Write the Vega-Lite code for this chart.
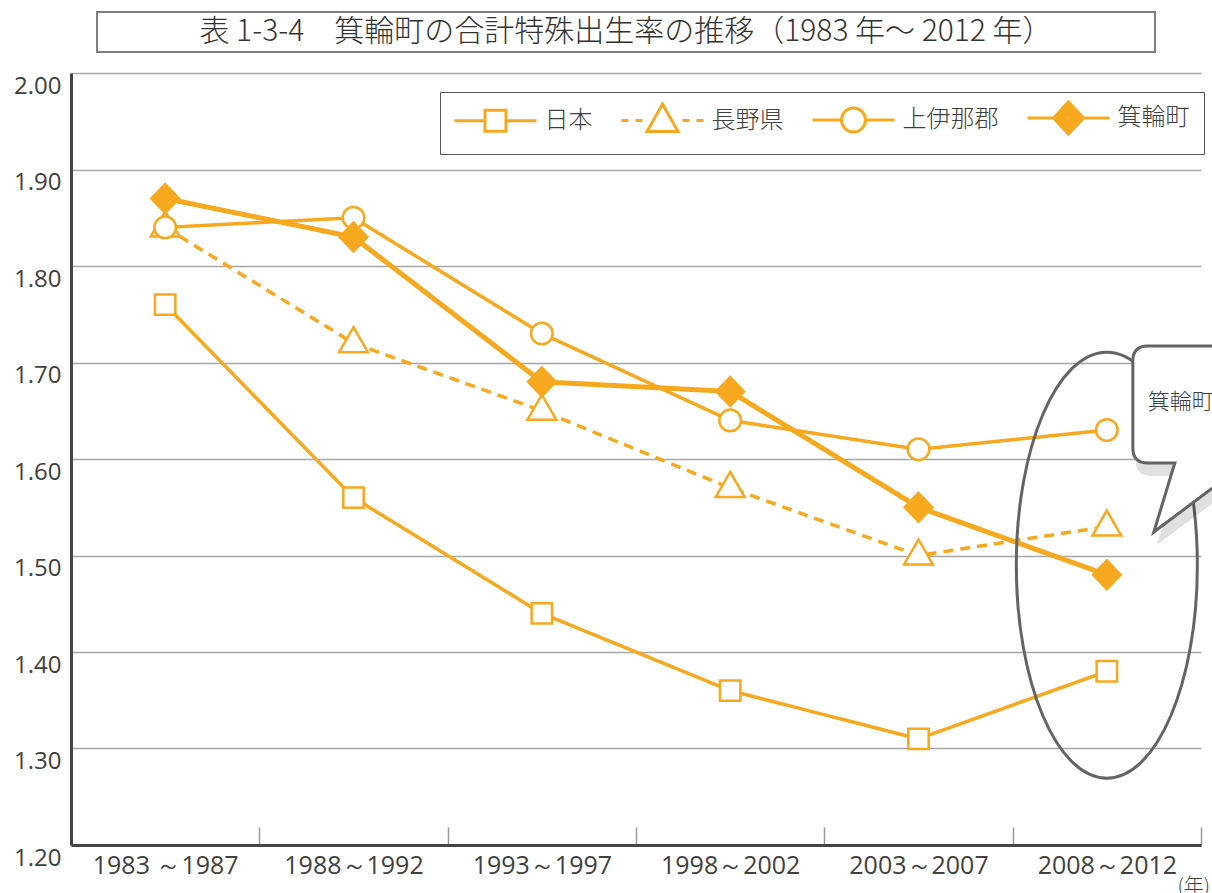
{
  "$schema": "https://vega.github.io/schema/vega-lite/v6.json",
  "autosize": {"type": "none"},
  "padding": {"left": 71, "top": 73, "right": 11, "bottom": 48},
  "width": 1130,
  "height": 772,
  "background": "white",
  "config": {"font": "Open Sans", "view": {"stroke": null}},
  "resolve": {"scale": {"shape": "independent"}},
  "datasets": {
    "tfr": [
      {"period": "1983 ～1987", "series": "日本", "value": 1.76},
      {"period": "1988～1992", "series": "日本", "value": 1.56},
      {"period": "1993～1997", "series": "日本", "value": 1.44},
      {"period": "1998～2002", "series": "日本", "value": 1.36},
      {"period": "2003～2007", "series": "日本", "value": 1.31},
      {"period": "2008～2012", "series": "日本", "value": 1.38},
      {"period": "1983 ～1987", "series": "長野県", "value": 1.84},
      {"period": "1988～1992", "series": "長野県", "value": 1.72},
      {"period": "1993～1997", "series": "長野県", "value": 1.65},
      {"period": "1998～2002", "series": "長野県", "value": 1.57},
      {"period": "2003～2007", "series": "長野県", "value": 1.50},
      {"period": "2008～2012", "series": "長野県", "value": 1.53},
      {"period": "1983 ～1987", "series": "上伊那郡", "value": 1.84},
      {"period": "1988～1992", "series": "上伊那郡", "value": 1.85},
      {"period": "1993～1997", "series": "上伊那郡", "value": 1.73},
      {"period": "1998～2002", "series": "上伊那郡", "value": 1.64},
      {"period": "2003～2007", "series": "上伊那郡", "value": 1.61},
      {"period": "2008～2012", "series": "上伊那郡", "value": 1.63},
      {"period": "1983 ～1987", "series": "箕輪町", "value": 1.87},
      {"period": "1988～1992", "series": "箕輪町", "value": 1.83},
      {"period": "1993～1997", "series": "箕輪町", "value": 1.68},
      {"period": "1998～2002", "series": "箕輪町", "value": 1.67},
      {"period": "2003～2007", "series": "箕輪町", "value": 1.55},
      {"period": "2008～2012", "series": "箕輪町", "value": 1.48}
    ]
  },
  "layer": [
    {
      "data": {"name": "tfr"},
      "mark": {"type": "line", "color": "#F6A81E", "strokeCap": "butt", "strokeJoin": "miter"},
      "encoding": {
        "x": {
          "field": "period",
          "type": "nominal",
          "sort": null,
          "title": "(年)",
          "scale": {"type": "band", "domain": ["1983 ～1987", "1988～1992", "1993～1997", "1998～2002", "2003～2007", "2008～2012"], "paddingInner": 0, "paddingOuter": 0},
          "axis": {
            "titleFont": "Noto Sans CJK JP",
            "titleFontSize": 20,
            "titleFontWeight": 300,
            "titleColor": "#404040",
            "titleAlign": "left",
            "titleAnchor": "start",
            "titleBaseline": "middle",
            "titleX": 1106,
            "titleY": 41,
            "labelAngle": 0,
            "labelFont": "Open Sans",
            "labelFontSize": 25,
            "labelColor": "#404040",
            "labelPadding": 26,
            "labelFlush": false,
            "labelOverlap": false,
            "tickBand": "extent",
            "tickSize": -18,
            "tickColor": "#999999",
            "tickWidth": 1.5,
            "domainColor": "#444444",
            "domainWidth": 3,
            "grid": false
          }
        },
        "y": {
          "field": "value",
          "type": "quantitative",
          "title": null,
          "scale": {"domain": [1.2, 2.0], "nice": false, "zero": false},
          "axis": {
            "values": [1.2, 1.3, 1.4, 1.5, 1.6, 1.7, 1.8, 1.9, 2.0],
            "format": ".2f",
            "grid": true,
            "gridColor": "#a6a6a6",
            "gridWidth": 1.5,
            "ticks": false,
            "tickSize": 0,
            "labelPadding": 10,
            "labelOffset": 13,
            "labelFont": "Open Sans",
            "labelFontSize": 24,
            "labelColor": "#404040",
            "labelBaseline": "middle",
            "domainColor": "#444444",
            "domainWidth": 3
          }
        },
        "detail": {"field": "series", "type": "nominal"},
        "strokeWidth": {"condition": {"test": "datum.series === '箕輪町'", "value": 5}, "value": 3.5},
        "strokeDash": {"condition": {"test": "datum.series === '長野県'", "value": [10, 7]}, "value": [1, 0]}
      }
    },
    {
      "data": {"name": "tfr"},
      "mark": {"type": "point", "filled": true, "stroke": "#F6A81E", "strokeWidth": 2.5, "opacity": 1, "size": 1600},
      "encoding": {
        "x": {"field": "period", "type": "nominal", "sort": null, "title": "(年)"},
        "y": {"field": "value", "type": "quantitative", "title": null},
        "fill": {"condition": {"test": "datum.series === '箕輪町'", "value": "#F6A81E"}, "value": "white"},
        "shape": {
          "field": "series",
          "type": "nominal",
          "legend": null,
          "scale": {
            "domain": ["箕輪町", "上伊那郡", "長野県", "日本"],
            "range": [
              "M0,-0.72L0.69,0L0,0.72L-0.69,0Z",
              "M0.54,0C0.54,0.298 0.298,0.54 0,0.54C-0.298,0.54 -0.54,0.298 -0.54,0C-0.54,-0.298 -0.298,-0.54 0,-0.54C0.298,-0.54 0.54,-0.298 0.54,0Z",
              "M0,-0.8L0.72,0.45L-0.72,0.45Z",
              "M-0.51,-0.51H0.51V0.51H-0.51Z"
            ]
          }
        }
      }
    },
    {
      "data": {"name": "tfr"},
      "mark": {"type": "point", "filled": false, "color": "#F6A81E", "strokeWidth": 3, "opacity": 0, "size": 400},
      "encoding": {
        "x": {"field": "period", "type": "nominal", "sort": null, "title": "(年)"},
        "y": {"field": "value", "type": "quantitative", "title": null},
        "shape": {
          "field": "series",
          "type": "nominal",
          "scale": {
            "domain": ["日本", "長野県", "上伊那郡", "箕輪町"],
            "range": [
              "M-4.1,0H-1.05M1.05,0H4.1M-1.05,-1.05H1.05V1.05H-1.05Z",
              "M-4.1,0H-3.4M-2.7,0H-2.0M2.0,0H2.7M3.4,0H4.1M0,-1.65L1.55,1.1L-1.55,1.1Z",
              "M-4.1,0H-1.2M1.2,0H4.1M1.2,0C1.2,0.663 0.663,1.2 0,1.2C-0.663,1.2 -1.2,0.663 -1.2,0C-1.2,-0.663 -0.663,-1.2 0,-1.2C0.663,-1.2 1.2,-0.663 1.2,0Z",
              "M-4.1,0H-1.5M1.5,0H4.1M0,-1.6L1.5,0L0,1.6L-1.5,0ZM0,-1.33L1.25,0L0,1.33L-1.25,0ZM0,-1.07L1.0,0L0,1.07L-1.0,0ZM0,-0.8L0.75,0L0,0.8L-0.75,0ZM0,-0.53L0.5,0L0,0.53L-0.5,0ZM0,-0.27L0.25,0L0,0.27L-0.25,0Z"
            ]
          },
          "legend": {
            "title": null,
            "orient": "none",
            "legendX": 369,
            "legendY": 19,
            "direction": "horizontal",
            "columns": 4,
            "columnPadding": 22,
            "padding": 14,
            "strokeColor": "#555555",
            "fillColor": "white",
            "labelFont": "Noto Sans CJK JP",
            "labelFontSize": 24,
            "labelFontWeight": 300,
            "labelColor": "#404040",
            "labelOffset": 37,
            "symbolSize": 400,
            "symbolOffset": 29.5,
            "symbolStrokeWidth": 3,
            "symbolStrokeColor": "#F6A81E",
            "symbolOpacity": 1
          }
        }
      }
    },
    {
      "data": {"values": [{}]},
      "mark": {
        "type": "point",
        "shape": "M0,-1C0.2347,-1 0.425,-0.5523 0.425,0C0.425,0.5523 0.2347,1 0,1C-0.2347,1 -0.425,0.5523 -0.425,0C-0.425,-0.5523 -0.2347,-1 0,-1Z",
        "size": 181476,
        "filled": false,
        "stroke": "#646464",
        "strokeWidth": 3,
        "opacity": 1
      },
      "encoding": {
        "x": {"datum": "2008～2012", "type": "nominal", "title": "(年)"},
        "y": {"datum": 1.49, "type": "quantitative", "title": null}
      }
    },
    {
      "data": {"values": [{}]},
      "mark": {
        "type": "point",
        "shape": "M1.26,-1.0H0.44Q0.29,-1.0 0.29,-0.85V0.02Q0.29,0.17 0.44,0.17H0.71L0.50,0.86L1.26,0.29Z",
        "size": 40000,
        "filled": true,
        "fill": "#000000",
        "fillOpacity": 0.12,
        "strokeWidth": 0,
        "opacity": 1
      },
      "encoding": {
        "x": {"datum": "2008～2012", "type": "nominal", "title": "(年)"},
        "y": {"datum": 1.6, "type": "quantitative", "title": null}
      }
    },
    {
      "data": {"values": [{}]},
      "mark": {
        "type": "point",
        "shape": "M1.23,-1.13H0.41Q0.26,-1.13 0.26,-0.98V-0.11Q0.26,0.04 0.41,0.04H0.68L0.47,0.73L1.23,0.16",
        "size": 40000,
        "filled": true,
        "fill": "white",
        "stroke": "#646464",
        "strokeWidth": 3,
        "strokeJoin": "miter",
        "opacity": 1
      },
      "encoding": {
        "x": {"datum": "2008～2012", "type": "nominal", "title": "(年)"},
        "y": {"datum": 1.6, "type": "quantitative", "title": null}
      }
    },
    {
      "data": {"values": [{"label": "箕輪町"}]},
      "mark": {"type": "text", "font": "Noto Sans CJK JP", "fontSize": 22, "fontWeight": 300, "color": "#404040", "align": "left", "baseline": "middle", "dx": 41},
      "encoding": {
        "x": {"datum": "2008～2012", "type": "nominal", "title": "(年)"},
        "y": {"datum": 1.659, "type": "quantitative", "title": null},
        "text": {"field": "label"}
      }
    },
    {
      "data": {"values": [{}]},
      "mark": {
        "type": "point",
        "shape": "M-1,-0.0378H1V0.0378H-1Z",
        "size": 1119364,
        "filled": true,
        "fill": "white",
        "stroke": "#7f7f7f",
        "strokeWidth": 2,
        "opacity": 1
      },
      "encoding": {
        "x": {"datum": "1993～1997", "type": "nominal", "bandPosition": 0.947, "title": "(年)"},
        "y": {"datum": 2.0425, "type": "quantitative", "title": null}
      }
    },
    {
      "data": {"values": [{"title": "表 1-3-4　箕輪町の合計特殊出生率の推移（1983 年～ 2012 年）"}]},
      "mark": {"type": "text", "font": "Noto Sans CJK JP", "fontSize": 30, "fontWeight": 300, "color": "#333333", "align": "center", "baseline": "middle"},
      "encoding": {
        "x": {"datum": "1993～1997", "type": "nominal", "bandPosition": 0.947, "title": "(年)"},
        "y": {"datum": 2.0425, "type": "quantitative", "title": null},
        "text": {"field": "title"}
      }
    }
  ]
}
